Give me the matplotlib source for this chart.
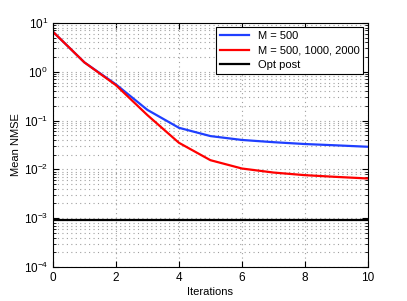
import matplotlib
matplotlib.use("Agg")
import matplotlib.pyplot as plt
from matplotlib.ticker import LogLocator, NullFormatter, FixedLocator

plt.rcParams['font.family'] = ['Liberation Sans', 'DejaVu Sans']
plt.rcParams['mathtext.fontset'] = 'custom'
plt.rcParams['mathtext.rm'] = 'Liberation Sans'

iterations = [0, 1, 2, 3, 4, 5, 6, 7, 8, 9, 10]
nmse_m500 = [6.6, 1.55, 0.55, 0.165, 0.071, 0.048, 0.040, 0.036, 0.033, 0.031, 0.029]
nmse_mvar = [6.6, 1.55, 0.53, 0.129, 0.035, 0.0154, 0.0104, 0.0086, 0.0076, 0.0070, 0.0065]
opt_post = 9.3e-4
labels = ["M = 500", "M = 500, 1000, 2000", "Opt post"]

fig = plt.figure(figsize=(4.07, 3.01), dpi=100)
ax = fig.add_axes([0.130, 0.113, 0.774, 0.811])

ax.semilogy(iterations, nmse_m500, color='#1f3fff', lw=1.6, label=labels[0])
ax.semilogy(iterations, nmse_mvar, color='#ff0000', lw=1.6, label=labels[1])
ax.axhline(opt_post, color='black', lw=1.6, label=labels[2])

ax.set_xlim(0, 10)
ax.set_ylim(1e-4, 1e1)
ax.xaxis.set_major_locator(FixedLocator([0, 2, 4, 6, 8, 10]))
ax.yaxis.set_major_locator(LogLocator(base=10, numticks=10))
ax.yaxis.set_minor_locator(LogLocator(base=10, subs=range(2, 10), numticks=20))
ax.yaxis.set_minor_formatter(NullFormatter())

ax.grid(True, which='major', axis='both', linestyle=(0, (1, 3)), color='#a0a0a0', lw=0.8)
ax.grid(True, which='minor', axis='y', linestyle=(0, (1, 3)), color='#a0a0a0', lw=0.8)

ax.tick_params(which='both', direction='in', top=True, right=True, labelsize=8.5)
ax.tick_params(which='major', length=4)
ax.tick_params(which='minor', length=2)
for s in ax.spines.values():
    s.set_linewidth(0.8)

ax.set_xlabel("Iterations", fontsize=8, labelpad=2)
ax.set_ylabel("Mean NMSE", fontsize=8, labelpad=2)

leg = ax.legend(loc='upper right', fontsize=8, fancybox=False, edgecolor='black',
                framealpha=1, handlelength=2.6, borderpad=0.35, labelspacing=0.38,
                borderaxespad=0.4)
leg.get_frame().set_linewidth(0.8)

fig.savefig("out.png", dpi=100)
